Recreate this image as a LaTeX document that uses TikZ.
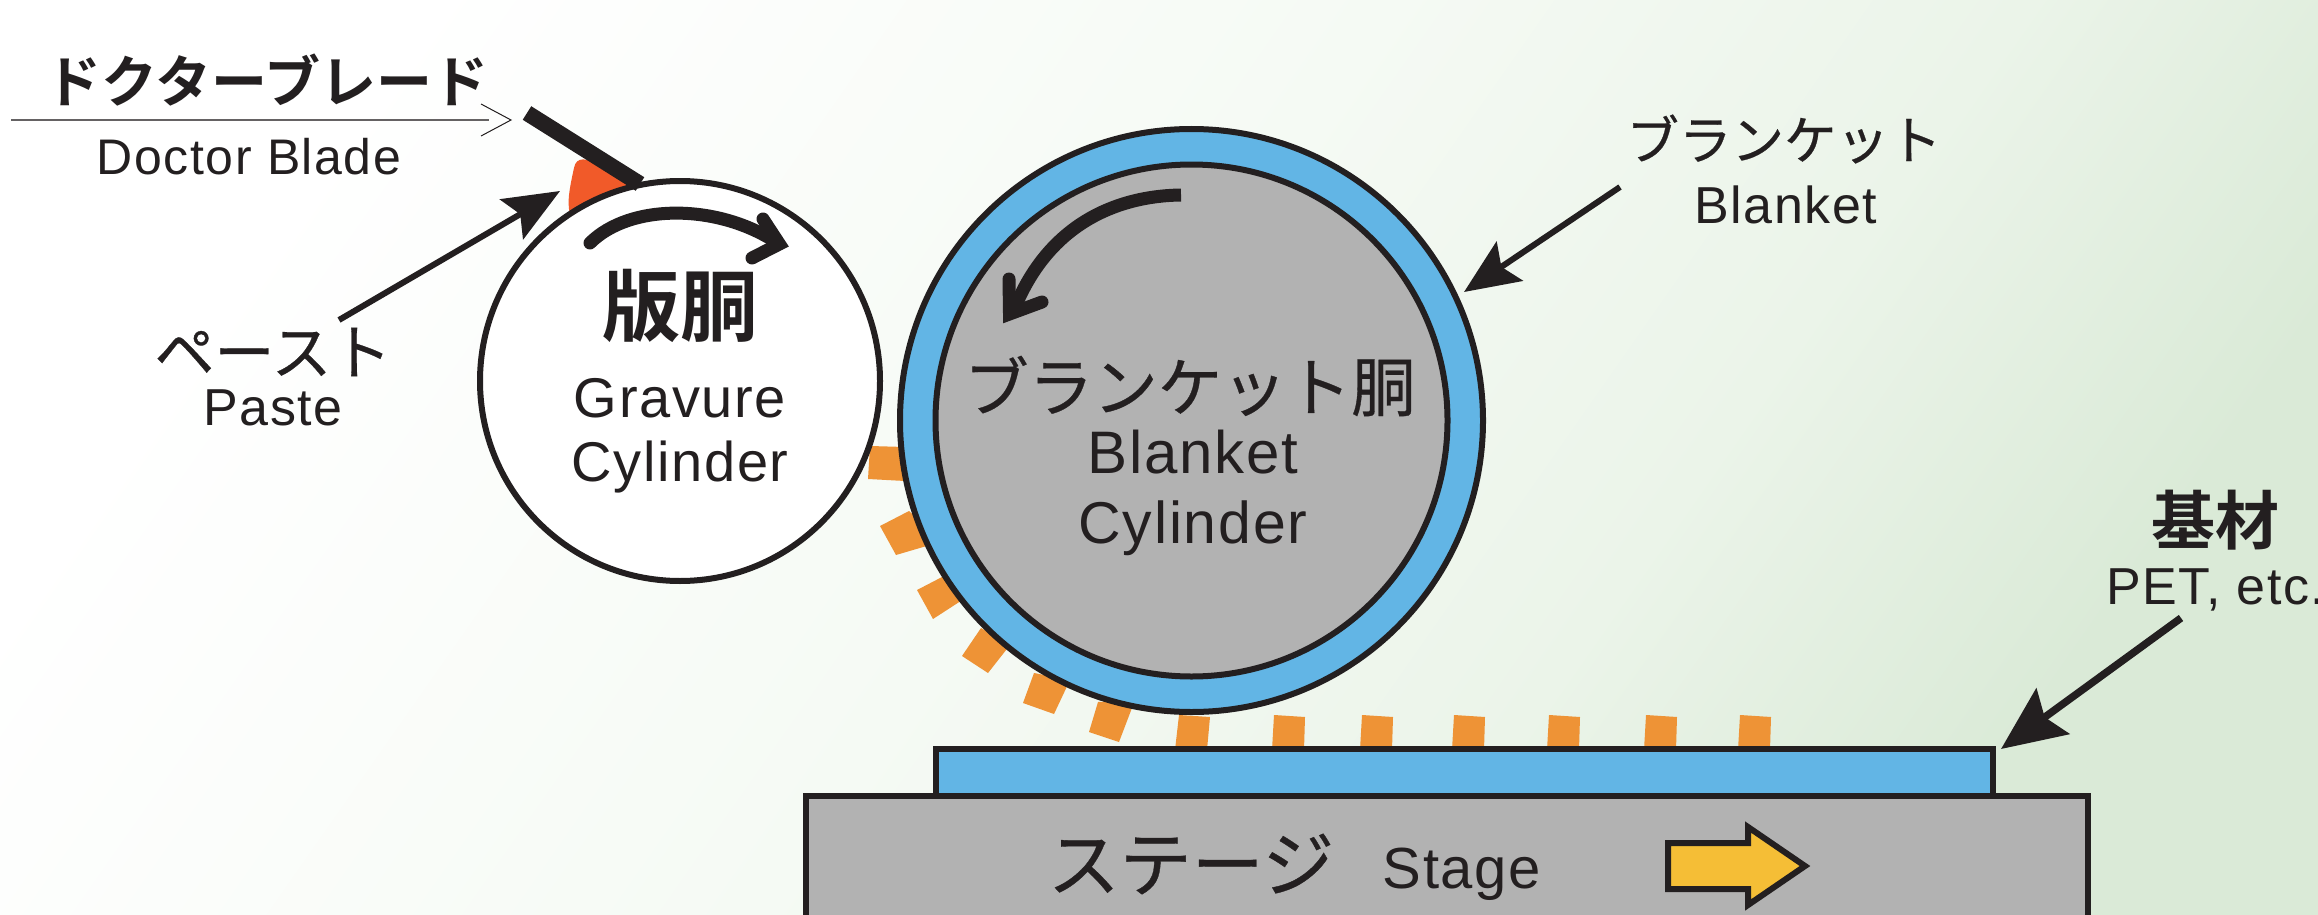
\documentclass[tikz,border=0pt]{standalone}
\usepackage{fontspec}
\usetikzlibrary{arrows.meta}
\setmainfont{Liberation Sans}
\newfontfamily\latn[LetterSpace=3]{Liberation Sans}
\newfontfamily\jpn[FakeBold=0.5]{Noto Sans CJK JP}
\newfontfamily\jpb{Noto Sans CJK JP Bold}
\definecolor{ink}{HTML}{231F20}
\definecolor{blanketblue}{HTML}{62B5E5}
\definecolor{steel}{HTML}{B2B2B2}
\definecolor{pasteo}{HTML}{EE9336}
\definecolor{pastered}{HTML}{F15A29}
\definecolor{moveyellow}{HTML}{F5BE36}
\definecolor{bggreen}{HTML}{DAEAD7}
\definecolor{bgmid}{HTML}{F5FAF4}
\definecolor{bgmid2}{HTML}{EBF4E9}
\pgfdeclarehorizontalshading{bgsh}{100bp}{color(0bp)=(white); color(25bp)=(white); color(48bp)=(bgmid); color(63bp)=(bgmid2); color(75bp)=(bggreen); color(100bp)=(bggreen)}
\tikzset{
  jtext/.style={text=ink,inner sep=0pt,font=\jpn},
  jbold/.style={text=ink,inner sep=0pt,font=\jpb},
  ltext/.style={text=ink,inner sep=0pt,anchor=base},
  outl/.style={draw=ink,line width=6pt},
  dot/.style={fill=pasteo,draw=none},
  pointer/.style n args={3}{draw=ink,line width=#3,-{Stealth[length=#1,width=#2,inset=10pt]}},
  turn/.style={draw=ink,line width=13pt,line cap=round},
  chevron/.style={draw=ink,line width=13pt,line cap=round,miter limit=10}
}
\newcommand{\sz}[1]{\fontsize{#1}{#1}\selectfont}
\begin{document}
\begin{tikzpicture}[x=1pt,y=-1pt]
\useasboundingbox (0,0) rectangle (2318,915);
\shade[shading=bgsh,shading angle=-35] (0,0) rectangle (2318,915);
% paste deposits
\fill[dot] (870,446) -- (905,447) -- (905,481) -- (868,479) -- cycle;
\fill[dot] (909,511) -- (930,530) -- (930,545) -- (896,555) -- (880,526) -- cycle;
\fill[dot] (942,577) -- (970,595) -- (933,619) -- (917,590) -- cycle;
\fill[dot] (981,628) -- (1010,645) -- (988,673) -- (962,656) -- cycle;
\fill[dot] (1034,673) -- (1070,680) -- (1054,714) -- (1023,703) -- cycle;
\fill[dot] (1098,702) -- (1135,700) -- (1119,742) -- (1089,732) -- cycle;
\foreach \a/\b in {1179/1175,1274/1272,1362/1360,1454/1452,1549/1547,1646/1644,1740/1738}
  \fill[dot] (\a,715) -- (\a+31,717) -- (\b+32,750) -- (\b,750) -- cycle;
% paste on gravure cylinder
\fill[pastered] (600,168) .. controls (588,157) and (576,156) .. (574,168) .. controls (568,195) and (567,205) .. (571,218) -- (640,190) -- cycle;
% stage and substrate
\draw[outl,fill=steel] (806,796) rectangle (2088,930);
\coordinate (subtip) at (2001,749);
\draw[outl,fill=blanketblue] (936,749) rectangle (1993,796);
% cylinders
\node[circle,outl,fill=white,minimum size=400pt,inner sep=0pt] (gravure) at (680,381) {};
\node[circle,outl,fill=blanketblue,minimum size=583pt,inner sep=0pt] (blanket) at (1191.5,420.5) {};
\node[circle,outl,fill=steel,minimum size=512pt,inner sep=0pt] (core) at (1191.5,420.5) {};
% doctor blade
\draw[ink,line width=16pt] (527,113) -- (640,184);
\coordinate (bladeL) at (11,120);
\coordinate (bladeR) at (489,120);
\draw[line width=2pt,draw=ink!70] (bladeL) -- (bladeR);
\draw[line width=1pt,draw=ink] (481,104) -- (511,120) -- (481,136);
% pointers
\coordinate (pastetip) at (560,191);
\coordinate (pastestart) at (339,320);
\draw[pointer={56pt}{46pt}{6pt}] (pastestart) -- (pastetip);
\coordinate (blanketstart) at (1620,187);
\coordinate (blankettip) at (1464,292);
\draw[pointer={55pt}{47pt}{6pt}] (blanketstart) -- (blankettip);
\coordinate (substart) at (2181,618);
\draw[pointer={64pt}{56pt}{7.5pt}] (substart) -- (subtip);
% rotation arrows
\draw[turn] (590,243) .. controls (630,203) and (719,203) .. (779,244);
\draw[chevron] (763,219) -- (779.4,244) -- (752,258);
\draw[draw=ink,line width=13pt] (1181,195) .. controls (1115,196) and (1050,225) .. (1016,305);
\draw[chevron] (1009,279) -- (1009.5,314) -- (1042,302);
% motion arrow
\draw[outl,miter limit=10,fill=moveyellow] (1668,843) -- (1748,843) -- (1748,827) -- (1805,866) -- (1748,905) -- (1748,889) -- (1668,889) -- cycle;
% labels
\node[jbold] (doctorj) at (267,80) {\sz{56}ドクターブレード};
\node[ltext] (doctorl) at (249,175) {\latn\sz{50}Doctor Blade};
\node[jtext] (pastej) at (273,352) {\sz{60}ペースト};
\node[ltext] (pastel) at (273,425) {\latn\sz{52}Paste};
\node[jbold] (hando) at (680,306) {\sz{78}版胴};
\node[ltext] (grav1) at (680,417) {\latn\sz{56}Gravure};
\node[ltext] (grav2) at (680,481) {\latn\sz{56}Cylinder};
\node[jtext] (blj) at (1190,386) {\sz{64.5}ブランケット胴};
\node[ltext] (bl1) at (1193,473) {\latn\sz{60}Blanket};
\node[ltext] (bl2) at (1193,543) {\latn\sz{59}Cylinder};
\node[jtext] (tblj) at (1784,139) {\sz{52.5}ブランケット};
\node[ltext] (tbl) at (1786,223) {\latn\sz{52}Blanket};
\node[jtext] (stj) at (1191,864) {\sz{72}ステージ};
\node[ltext] (stl) at (1462,888) {\latn\sz{58}Stage};
\node[jbold] (kizai) at (2215,520) {\sz{64}基材};
\node[ltext,anchor=base west] (pet) at (2106,604) {\latn\sz{52}PET, etc.};
\end{tikzpicture}
\end{document}
